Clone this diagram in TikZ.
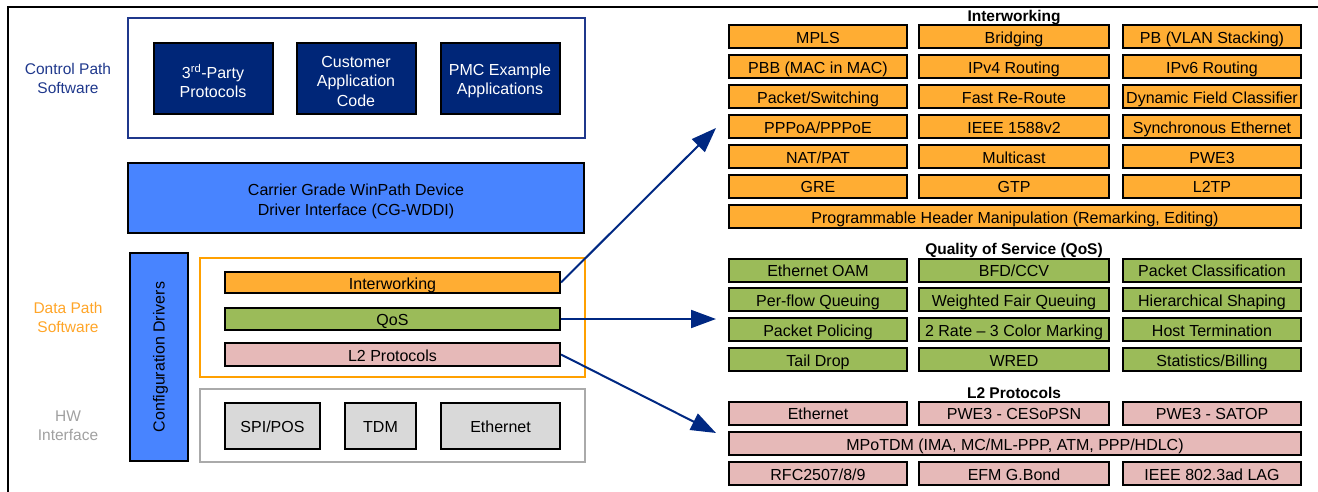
\documentclass[tikz,border=0pt]{standalone}
\usepackage{fontspec}
\setmainfont{Liberation Sans}
\usetikzlibrary{arrows.meta}
\definecolor{org}{RGB}{255,173,51}
\definecolor{grn}{RGB}{155,187,89}
\definecolor{pnk}{RGB}{230,185,184}
\definecolor{navyfill}{RGB}{0,38,120}
\definecolor{bluefill}{RGB}{72,132,255}
\definecolor{grayfill}{RGB}{217,217,217}
\definecolor{grayframe}{RGB}{170,170,170}
\definecolor{orgframe}{RGB}{255,160,0}
\definecolor{navyline}{RGB}{31,56,140}
\definecolor{arrowc}{RGB}{0,40,130}
\definecolor{datalbl}{RGB}{255,165,40}
\definecolor{hwlbl}{RGB}{160,160,160}
\begin{document}
\begin{tikzpicture}[x=1pt,y=-1pt,
  every node/.style={font=\fontsize{16}{19.5}\selectfont, inner sep=0pt, align=center},
  bx/.style={draw=black, line width=2pt, rectangle},
  one/.style={text height=15pt, text depth=2pt},
  cell/.style={bx, one, minimum height=23pt},
  c1/.style={cell, minimum width=178pt},
  c2/.style={cell, minimum width=190pt},
  c3/.style={cell, minimum width=178pt},
  cw/.style={cell, minimum width=572pt},
  ttl/.style={font=\fontsize{15.5}{18}\selectfont\bfseries},
  frame/.style={line width=2pt},
  lbl/.style={font=\fontsize{15.5}{19}\selectfont},
  arr/.style={draw=arrowc, line width=2pt, -{Triangle[length=25pt,width=18pt]}}
]
\useasboundingbox (0,0) rectangle (1318,492);
% outer frame
\draw[line width=2pt] (1318,7) -- (8,7) -- (8,492);

% left labels
\node[lbl, text=navyline] (lcp) at (68,78.5) {Control Path\\Software};
\node[lbl, text=datalbl] (ldp) at (68,317.5) {Data Path\\Software};
\node[lbl, text=hwlbl] (lhw) at (68,425.5) {HW\\Interface};

% control path
\draw[frame, draw=navyline] (128,18) rectangle (585,138);
\node[bx, fill=navyfill, text=white, minimum width=119pt, minimum height=71pt] (p3) at (213,79) {};
\node[text=white] (p3t) at (213,81) {3\textsuperscript{rd}-Party\\Protocols};
\node[bx, fill=navyfill, text=white, minimum width=119pt, minimum height=71pt] (cac) at (356,79) {};
\node[text=white] (cact) at (356,81) {Customer\\Application\\Code};
\node[bx, fill=navyfill, text=white, minimum width=119pt, minimum height=71pt] (pmc) at (500,79) {};
\node[text=white] (pmct) at (500,81) {PMC Example\\Applications};

% CG-WDDI
\node[bx, fill=bluefill, minimum width=456pt, minimum height=70pt] (wddi) at (356,198) {};
\node (wddit) at (356,201.5) {Carrier Grade WinPath Device\\Driver Interface (CG-WDDI)};

% configuration drivers
\node[bx, fill=bluefill, minimum width=58pt, minimum height=208pt] (cfg) at (159,357) {};
\node[rotate=90, one] (cfgt) at (158,357) {Configuration Drivers};

% data path
\draw[frame, draw=orgframe] (200,258) rectangle (585,377);
\node[bx, one, fill=org, minimum width=335pt, minimum height=21pt] (iw) at (392.5,282.5) {Interworking};
\node[bx, one, fill=grn, minimum width=335pt, minimum height=22pt] (qos) at (392.5,319) {QoS};
\node[bx, one, fill=pnk, minimum width=335pt, minimum height=23pt] (l2) at (392.5,354.5) {L2 Protocols};

% HW interface
\draw[frame, draw=grayframe] (200,389) rectangle (585,462);
\node[bx, one, fill=grayfill, minimum width=95pt, minimum height=46pt] (spi) at (272.5,426) {SPI/POS};
\node[bx, one, fill=grayfill, minimum width=71pt, minimum height=46pt] (tdm) at (380.5,426) {TDM};
\node[bx, one, fill=grayfill, minimum width=119pt, minimum height=46pt] (eth) at (500.5,426) {Ethernet};

% right: Interworking
\node[ttl, one] (tiw) at (1014,15) {Interworking};
\node[c1, fill=org] (a1) at (818,37) {MPLS};
\node[c2, fill=org] (a2) at (1014,37) {Bridging};
\node[c3, fill=org] (a3) at (1212,37) {PB (VLAN Stacking)};
\node[c1, fill=org] (b1) at (818,66.9) {PBB (MAC in MAC)};
\node[c2, fill=org] (b2) at (1014,66.9) {IPv4 Routing};
\node[c3, fill=org] (b3) at (1212,66.9) {IPv6 Routing};
\node[c1, fill=org] (c1n) at (818,96.8) {Packet/Switching};
\node[c2, fill=org] (c2n) at (1014,96.8) {Fast Re-Route};
\node[c3, fill=org] (c3n) at (1212,96.8) {Dynamic Field Classifier};
\node[c1, fill=org] (d1) at (818,126.7) {PPPoA/PPPoE};
\node[c2, fill=org] (d2) at (1014,126.7) {IEEE 1588v2};
\node[c3, fill=org] (d3) at (1212,126.7) {Synchronous Ethernet};
\node[c1, fill=org] (e1) at (818,156.6) {NAT/PAT};
\node[c2, fill=org] (e2) at (1014,156.6) {Multicast};
\node[c3, fill=org] (e3) at (1212,156.6) {PWE3};
\node[c1, fill=org] (f1) at (818,186.5) {GRE};
\node[c2, fill=org] (f2) at (1014,186.5) {GTP};
\node[c3, fill=org] (f3) at (1212,186.5) {L2TP};
\node[cw, fill=org] (g1) at (1015,216.5) {Programmable Header Manipulation (Remarking, Editing)};

% right: QoS
\node[ttl, one] (tqos) at (1014,247.5) {Quality of Service (QoS)};
\node[c1, fill=grn] (q11) at (818,270) {Ethernet OAM};
\node[c2, fill=grn] (q12) at (1014,270) {BFD/CCV};
\node[c3, fill=grn] (q13) at (1212,270) {Packet Classification};
\node[c1, fill=grn] (q21) at (818,299.6) {Per-flow Queuing};
\node[c2, fill=grn] (q22) at (1014,299.6) {Weighted Fair Queuing};
\node[c3, fill=grn] (q23) at (1212,299.6) {Hierarchical Shaping};
\node[c1, fill=grn] (q31) at (818,329.5) {Packet Policing};
\node[c2, fill=grn] (q32) at (1014,329.5) {2 Rate – 3 Color Marking};
\node[c3, fill=grn] (q33) at (1212,329.5) {Host Termination};
\node[c1, fill=grn] (q41) at (818,359.5) {Tail Drop};
\node[c2, fill=grn] (q42) at (1014,359.5) {WRED};
\node[c3, fill=grn] (q43) at (1212,359.5) {Statistics/Billing};

% right: L2
\node[ttl, one] (tl2) at (1014,391.5) {L2 Protocols};
\node[c1, fill=pnk] (l11) at (818,413.2) {Ethernet};
\node[c2, fill=pnk] (l12) at (1014,413.2) {PWE3 - CESoPSN};
\node[c3, fill=pnk] (l13) at (1212,413.2) {PWE3 - SATOP};
\node[cw, fill=pnk] (l21) at (1015,443.5) {MPoTDM (IMA, MC/ML-PPP, ATM, PPP/HDLC)};
\node[c1, fill=pnk] (l31) at (818,473.5) {RFC2507/8/9};
\node[c2, fill=pnk] (l32) at (1014,473.5) {EFM G.Bond};
\node[c3, fill=pnk] (l33) at (1212,473.5) {IEEE 802.3ad LAG};

% arrows
\coordinate (tip1) at (716,128);
\coordinate (tip2) at (716,319);
\coordinate (tip3) at (716,433);
\draw[arr] (iw.east) -- (tip1);
\draw[arr] (qos.east) -- (tip2);
\draw[arr] (l2.east) -- (tip3);
\end{tikzpicture}
\end{document}
